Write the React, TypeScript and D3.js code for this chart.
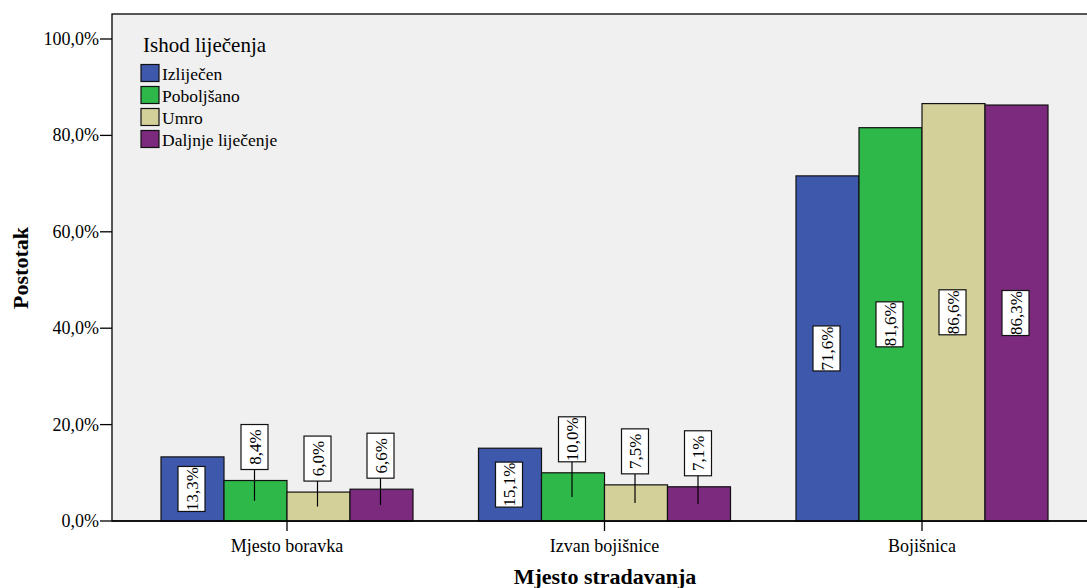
import React from "react";
import * as d3 from "d3";

const categories = ["Mjesto boravka", "Izvan bojišnice", "Bojišnica"];
const seriesNames = ["Izliječen", "Poboljšano", "Umro", "Daljnje liječenje"];
const izlijecen = [13.3, 15.1, 71.6];
const poboljsano = [8.4, 10.0, 81.6];
const umro = [6.0, 7.5, 86.6];
const daljnje = [6.6, 7.1, 86.3];
const yTicks = [0, 20, 40, 60, 80, 100];
const colors = ["#3e58ac", "#2fb84a", "#d4d09a", "#7c2a7e"];

const W = 1087;
const H = 588;
const FONT = "Liberation Serif, Tinos, Times New Roman, serif";

export default function App() {
  const seriesValues = [izlijecen, poboljsano, umro, daljnje];
  const left = 112;
  const top = 14;
  const bottom = 521;
  const y = d3.scaleLinear().domain([0, 100]).range([bottom, 39]);
  const x0 = d3.scaleBand<string>().domain(categories).range([128.25, 1080.75]);
  const groupW = 252;
  const x1 = d3
    .scaleBand<string>()
    .domain(seriesNames)
    .range([(x0.bandwidth() - groupW) / 2, (x0.bandwidth() + groupW) / 2]);
  const fmt = (v: number) => v.toFixed(1).replace(".", ",") + "%";
  const boxW = 27;
  const labelFont = 17;

  const bars: any[] = [];
  categories.forEach((c, ci) => {
    seriesNames.forEach((s, si) => {
      const v = seriesValues[si][ci];
      bars.push({ c, s, si, v, x: (x0(c) as number) + (x1(s) as number), w: x1.bandwidth() });
    });
  });

  const txt = (props: any, children: any) => (
    <text {...props} style={{ fontFamily: FONT }}>
      {children}
    </text>
  );

  return (
    <svg width={W} height={H} style={{ display: "block", position: "absolute", left: 0, top: 0, fontFamily: FONT }}>
      <rect x={0} y={0} width={W} height={H} fill="#ffffff" />
      <rect x={left} y={top} width={W - left + 5} height={bottom - top} fill="#f0f0f0" stroke="#000" strokeWidth={1.3} />
      {bars.map((b, i) => (
        <rect
          key={"b" + i}
          x={b.x}
          y={y(b.v)}
          width={b.w}
          height={bottom - y(b.v)}
          fill={colors[b.si]}
          stroke="#111"
          strokeWidth={1.2}
        />
      ))}
      <line x1={left} x2={W} y1={bottom} y2={bottom} stroke="#000" strokeWidth={1.3} />
      {yTicks.map((t) => (
        <g key={"t" + t}>
          <line x1={left - 12} x2={left} y1={y(t)} y2={y(t)} stroke="#000" strokeWidth={1.3} />
          {txt({ x: left - 13, y: y(t) + 6, textAnchor: "end", fontSize: 18 }, t.toFixed(1).replace(".", ",") + "%")}
        </g>
      ))}
      {categories.map((c) => {
        const cx = (x0(c) as number) + x0.bandwidth() / 2;
        return (
          <g key={"x" + c}>
            <line x1={cx} x2={cx} y1={bottom} y2={bottom + 10} stroke="#000" strokeWidth={1.3} />
            {txt({ x: cx, y: 552, textAnchor: "middle", fontSize: 18 }, c)}
          </g>
        );
      })}
      {bars.map((b, i) => {
        const t = fmt(b.v);
        const boxH = t.length >= 6 ? 54 : 45;
        const barH = bottom - y(b.v);
        const cx = b.x + b.w / 2 - 1;
        const inside = barH > boxH + 6;
        const mid = (y(b.v) + bottom) / 2;
        const cy = inside ? mid : y(b.v) - 11 - boxH / 2;
        return (
          <g key={"l" + i}>
            {!inside && <line x1={cx} x2={cx} y1={cy + boxH / 2} y2={mid} stroke="#000" strokeWidth={1.2} />}
            <rect x={cx - boxW / 2} y={cy - boxH / 2} width={boxW} height={boxH} fill="#fff" stroke="#111" strokeWidth={1.2} />
            {txt(
              { transform: `translate(${cx + 6},${cy}) rotate(-90)`, textAnchor: "middle", fontSize: labelFont },
              t
            )}
          </g>
        );
      })}
      {txt({ x: 143, y: 52, fontSize: 21 }, "Ishod liječenja")}
      {seriesNames.map((s, i) => (
        <g key={"lg" + s}>
          <rect x={141} y={64.5 + i * 22} width={18} height={17} fill={colors[i]} stroke="#111" strokeWidth={1.2} />
          {txt({ x: 162, y: 79.5 + i * 22, fontSize: 17.5 }, s)}
        </g>
      ))}
      {txt(
        { transform: `translate(28,268) rotate(-90)`, textAnchor: "middle", fontSize: 22, fontWeight: "bold" },
        "Postotak"
      )}
      {txt({ x: 605, y: 584, textAnchor: "middle", fontSize: 22, fontWeight: "bold" }, "Mjesto stradavanja")}
    </svg>
  );
}
